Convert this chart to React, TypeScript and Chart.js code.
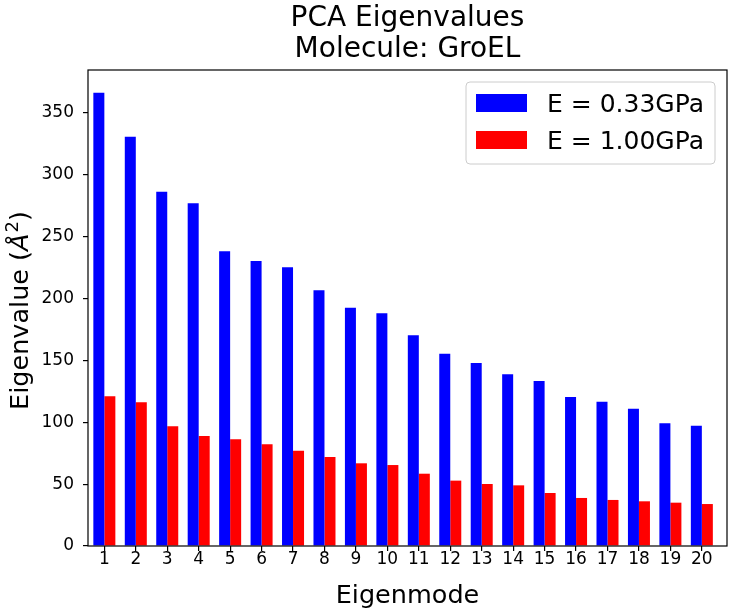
import React, { useEffect, useRef } from 'react';
import { Chart, registerables } from 'chart.js';

Chart.register(...registerables);

// ---- data ----
const modes = [1, 2, 3, 4, 5, 6, 7, 8, 9, 10, 11, 12, 13, 14, 15, 16, 17, 18, 19, 20];
const softValues = [366.2, 330.6, 286.2, 276.8, 238.0, 230.2, 225.1, 206.5, 192.5, 188.0, 170.2, 155.3, 147.8, 138.7, 133.3, 120.4, 116.6, 110.9, 99.1, 97.2];
const stiffValues = [120.9, 116.1, 96.7, 88.9, 86.2, 82.1, 77.0, 71.9, 66.8, 65.4, 58.4, 52.8, 50.1, 49.0, 42.8, 38.8, 37.2, 36.1, 35.0, 33.9];
const yTicks = [0, 50, 100, 150, 200, 250, 300, 350];
const seriesLabels = ['E = 0.33GPa', 'E = 1.00GPa'];
const seriesColors = ['#0000ff', '#ff0000'];
const titleLines = ['PCA Eigenvalues', 'Molecule: GroEL'];
const xLabel = 'Eigenmode';

const FONT = '"DejaVu Sans", sans-serif';
const X_MIN = 0.48;
const X_MAX = 20.8;
const Y_MAX = 384.5;

const decorPlugin = {
  id: 'decor',
  afterDatasetsDraw(chart: any) {
    const { ctx, chartArea: a } = chart;
    ctx.save();
    // frame
    ctx.strokeStyle = '#000';
    ctx.lineWidth = 1.2;
    ctx.strokeRect(a.left, a.top, a.right - a.left, a.bottom - a.top);

    // legend
    const bw = 249;
    const bh = 82;
    const bx = a.right - 12 - bw;
    const by = a.top + 12;
    const r = 4;
    ctx.beginPath();
    ctx.moveTo(bx + r, by);
    ctx.lineTo(bx + bw - r, by);
    ctx.arcTo(bx + bw, by, bx + bw, by + r, r);
    ctx.lineTo(bx + bw, by + bh - r);
    ctx.arcTo(bx + bw, by + bh, bx + bw - r, by + bh, r);
    ctx.lineTo(bx + r, by + bh);
    ctx.arcTo(bx, by + bh, bx, by + bh - r, r);
    ctx.lineTo(bx, by + r);
    ctx.arcTo(bx, by, bx + r, by, r);
    ctx.closePath();
    ctx.fillStyle = 'rgba(255,255,255,0.8)';
    ctx.fill();
    ctx.strokeStyle = '#cccccc';
    ctx.lineWidth = 1;
    ctx.stroke();

    ctx.font = `25px ${FONT}`;
    ctx.textAlign = 'left';
    ctx.textBaseline = 'alphabetic';
    chart.data.datasets.forEach((ds: any, i: number) => {
      const rowTop = by + 12 + i * 37;
      ctx.fillStyle = ds.backgroundColor;
      ctx.fillRect(bx + 10, rowTop, 51, 18);
      ctx.fillStyle = '#000';
      ctx.fillText(ds.label, bx + 81, rowTop + 18);
    });
    ctx.restore();
  },
  afterDraw(chart: any) {
    const { ctx, chartArea: a } = chart;
    const cx = (a.left + a.right) / 2;
    ctx.save();
    ctx.fillStyle = '#000';
    ctx.textBaseline = 'alphabetic';
    ctx.textAlign = 'center';
    // title
    ctx.font = `28px ${FONT}`;
    ctx.fillText(titleLines[0], cx, 26);
    ctx.fillText(titleLines[1], cx, 57);
    // x label
    ctx.font = `25.5px ${FONT}`;
    ctx.fillText(xLabel, cx, 603);

    // y label: "Eigenvalue (" + italic Å + superscript 2 + ")"
    const normal = `25.5px ${FONT}`;
    const italic = `italic 25.5px ${FONT}`;
    const small = `18px ${FONT}`;
    const parts = [
      { t: 'Eigenvalue (', f: normal, dy: 0 },
      { t: 'Å', f: italic, dy: 0 },
      { t: '2', f: small, dy: -10 },
      { t: ')', f: normal, dy: 0 },
    ];
    let total = 0;
    const widths = parts.map((p) => {
      ctx.font = p.f;
      const w = ctx.measureText(p.t).width;
      total += w;
      return w;
    });
    ctx.translate(28, 311);
    ctx.rotate(-Math.PI / 2);
    ctx.textAlign = 'left';
    let x = -total / 2;
    parts.forEach((p, i) => {
      ctx.font = p.f;
      ctx.fillText(p.t, x, p.dy);
      x += widths[i] + (i === 1 ? 1 : 0);
    });
    ctx.restore();
  },
};

export default function App() {
  const ref = useRef<HTMLCanvasElement | null>(null);

  useEffect(() => {
    document.body.style.margin = '0';
    const canvas = ref.current;
    if (!canvas) return;
    const chart = new Chart(canvas, {
      type: 'bar',
      data: {
        datasets: [
          {
            label: seriesLabels[0],
            data: modes.map((m, i) => ({ x: m, y: softValues[i] })),
            backgroundColor: seriesColors[0],
            borderWidth: 0,
          },
          {
            label: seriesLabels[1],
            data: modes.map((m, i) => ({ x: m, y: stiffValues[i] })),
            backgroundColor: seriesColors[1],
            borderWidth: 0,
          },
        ],
      },
      options: {
        responsive: false,
        animation: false,
        devicePixelRatio: 1,
        layout: { padding: { top: 70, right: 6, left: 0, bottom: 0 } },
        datasets: { bar: { categoryPercentage: 0.7, barPercentage: 1.0 } },
        plugins: {
          legend: { display: false },
          title: { display: false },
          tooltip: { enabled: false },
        },
        scales: {
          x: {
            type: 'linear',
            min: X_MIN,
            max: X_MAX,
            offset: false,
            grid: {
              display: true,
              offset: false,
              drawOnChartArea: false,
              drawTicks: true,
              tickLength: 5,
              tickColor: '#000',
              lineWidth: 1.2,
            },
            border: { display: false },
            afterBuildTicks: (scale: any) => {
              scale.ticks = modes.map((v) => ({ value: v }));
            },
            afterFit: (scale: any) => {
              scale.height = 66;
            },
            ticks: {
              color: '#000',
              padding: 0,
              autoSkip: false,
              maxRotation: 0,
              font: { family: FONT, size: 17, lineHeight: 1 },
              callback: (v: any) => String(v),
            },
          },
          y: {
            type: 'linear',
            min: 0,
            max: Y_MAX,
            grid: {
              display: true,
              drawOnChartArea: false,
              drawTicks: true,
              tickLength: 5,
              tickColor: '#000',
              lineWidth: 1.2,
            },
            border: { display: false },
            afterBuildTicks: (scale: any) => {
              scale.ticks = yTicks.map((v) => ({ value: v }));
            },
            afterFit: (scale: any) => {
              scale.width = 88;
            },
            ticks: {
              color: '#000',
              padding: 9,
              font: { family: FONT, size: 17, lineHeight: 1 },
              callback: (v: any) => String(v),
            },
          },
        },
      },
      plugins: [decorPlugin],
    } as any);
    return () => chart.destroy();
  }, []);

  return (
    <canvas
      ref={ref}
      width={733}
      height={612}
      style={{ position: 'absolute', left: 0, top: 0, display: 'block', width: 733, height: 612 }}
    />
  );
}
